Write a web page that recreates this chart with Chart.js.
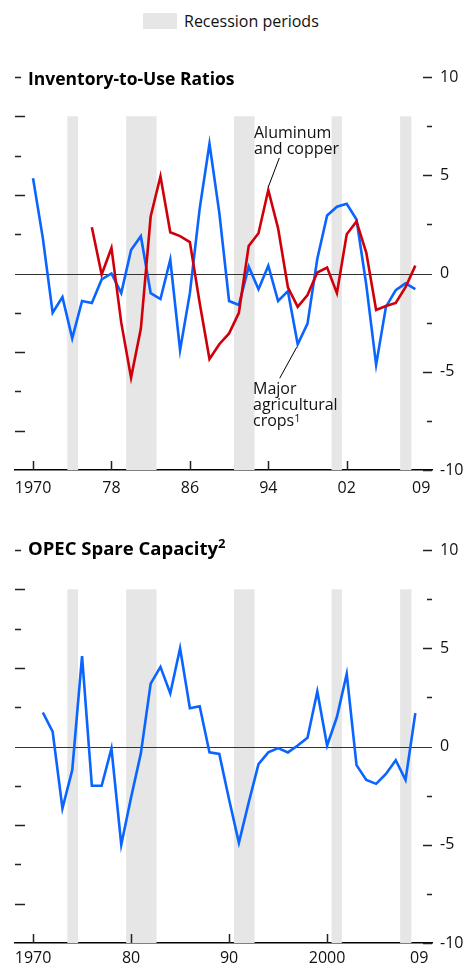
<!DOCTYPE html>
<html>
<head>
<meta charset="utf-8">
<script src="https://cdn.jsdelivr.net/npm/chart.js@4/dist/chart.umd.min.js"></script>
<style>
  body { margin: 0; background: #fff; font-family: "Open Sans", sans-serif; color: #111; }
  #wrap { position: relative; width: 470px; height: 969px; overflow: hidden; }
  canvas { position: absolute; left: 0; }
  .txt { position: absolute; white-space: nowrap; }
  .title { font-weight: bold; font-size: 17.5px; line-height: 20px; left: 28px; color: #000; }
  .note { font-size: 16px; line-height: 16px; }
  .swatch { position: absolute; left: 143px; top: 13px; width: 34px; height: 16px; background: #e6e6e6; }
  sup { line-height: 0; }
</style>
</head>
<body>
<div id="wrap">
  <div class="swatch"></div>
  <div class="txt" style="left:184px; top:11px; font-size:16px; line-height:20px;">Recession periods</div>

  <canvas id="invChart" width="470" height="510" style="top:0"></canvas>
  <canvas id="opecChart" width="470" height="459" style="top:510px"></canvas>

  <div class="txt title" style="top:68px;">Inventory-to-Use Ratios</div>
  <div class="txt title" style="top:538px; font-size:18.5px;">OPEC Spare Capacity<sup style="font-size:13px; vertical-align:7px;">2</sup></div>

  <div class="txt note" style="left:254px; top:124px;">Aluminum<br>and copper</div>
  <div class="txt note" style="left:253px; top:380px;">Major<br>agricultural<br>crops<sup style="font-size:11px; vertical-align:4px;">1</sup></div>
</div>

<script>
// --- data ---
const cropYears = [1970, 1971, 1972, 1973, 1974, 1975, 1976, 1977, 1978, 1979,
                   1980, 1981, 1982, 1983, 1984, 1985, 1986, 1987, 1988, 1989,
                   1990, 1991, 1992, 1993, 1994, 1995, 1996, 1997, 1998, 1999,
                   2000, 2001, 2002, 2003, 2004, 2005, 2006, 2007, 2008, 2009];
const cropsRatio = [4.85, 1.8, -2.0, -1.2, -3.3, -1.4, -1.5, -0.3, 0.0, -1.0,
                    1.2, 1.9, -1.0, -1.3, 0.7, -3.9, -1.0, 3.3, 6.6, 3.1,
                    -1.4, -1.6, 0.35, -0.8, 0.4, -1.4, -0.9, -3.6, -2.55, 0.75,
                    2.95, 3.4, 3.55, 2.75, -0.6, -4.65, -1.7, -0.85, -0.5, -0.8];

const metalYears = [1976, 1977, 1978, 1979,
                    1980, 1981, 1982, 1983, 1984, 1985, 1986, 1987, 1988, 1989,
                    1990, 1991, 1992, 1993, 1994, 1995, 1996, 1997, 1998, 1999,
                    2000, 2001, 2002, 2003, 2004, 2005, 2006, 2007, 2008, 2009];
const metalsRatio = [2.35, -0.05, 1.3, -2.5,
                     -5.3, -2.8, 2.9, 4.95, 2.1, 1.9, 1.6, -1.5, -4.35, -3.6,
                     -3.05, -2.0, 1.4, 2.05, 4.25, 2.3, -0.7, -1.7, -1.1, 0.05,
                     0.3, -1.0, 2.0, 2.65, 1.05, -1.85, -1.65, -1.5, -0.7, 0.4];

const opecYears = [1971, 1972, 1973, 1974, 1975, 1976, 1977, 1978, 1979,
                   1980, 1981, 1982, 1983, 1984, 1985, 1986, 1987, 1988, 1989,
                   1990, 1991, 1992, 1993, 1994, 1995, 1996, 1997, 1998, 1999,
                   2000, 2001, 2002, 2003, 2004, 2005, 2006, 2007, 2008, 2009];
const opecSpare = [1.73, 0.76, -3.15, -1.2, 4.6, -2.0, -2.0, -0.1, -5.0,
                   -2.6, -0.35, 3.2, 4.05, 2.7, 5.0, 1.95, 2.05, -0.3, -0.38,
                   -2.7, -4.9, -2.85, -0.9, -0.3, -0.08, -0.3, 0.05, 0.45, 2.8,
                   0.05, 1.5, 3.7, -0.95, -1.7, -1.9, -1.4, -0.7, -1.7, 1.7];

const recessionStart = [1973.5, 1979.5, 1990.5, 2000.45, 2007.45];
const recessionEnd   = [1974.6, 1982.6, 1992.6, 2001.5, 2008.6];

const invTickYears  = [1970, 1978, 1986, 1994, 2002];
const invLabelYears = [1970, 1978, 1986, 1994, 2002, 2009.6];
const invLabels     = ['1970', '78', '86', '94', '02', '09'];

const opecTickYears  = [1970, 1980, 1990, 2000];
const opecLabelYears = [1970, 1980, 1990, 2000, 2009.4];
const opecLabels     = ['1970', '80', '90', '2000', '09'];

const leftTicks  = [10, 8, 6, 4, 2, -2, -4, -6, -8];
const rightTicks = [10, 7.5, 5, 2.5, -2.5, -5, -7.5, -10];

const BLUE = '#0a64ff';
const RED = '#d0000b';

const pts = (xs, ys) => xs.map((x, i) => ({ x: x, y: ys[i] }));

// bands, zero line, tick marks and leader lines
const decorPlugin = {
    id: 'decor',
    beforeDatasetsDraw(chart, args, opts) {
        const { ctx, chartArea, scales: { x, y } } = chart;
        ctx.save();
        ctx.fillStyle = '#e6e6e6';
        const yTop = y.getPixelForValue(8), yBot = y.getPixelForValue(-10);
        recessionStart.forEach((s, i) => {
            const x0 = x.getPixelForValue(s);
            const x1 = x.getPixelForValue(recessionEnd[i]);
            ctx.fillRect(x0, yTop, x1 - x0, yBot - yTop);
        });
        // zero line
        ctx.strokeStyle = '#333';
        ctx.lineWidth = 1;
        const y0 = Math.round(y.getPixelForValue(0)) + 0.5;
        ctx.beginPath();
        ctx.moveTo(chartArea.left, y0);
        ctx.lineTo(chartArea.right, y0);
        ctx.stroke();
        ctx.restore();
    },
    afterDraw(chart, args, opts) {
        const { ctx, chartArea, scales: { x, y } } = chart;
        ctx.save();
        ctx.strokeStyle = '#222';
        ctx.lineWidth = 1.5;
        ctx.beginPath();
        leftTicks.forEach(v => {
            const py = Math.round(y.getPixelForValue(v)) + 0.5;
            const len = (v % 4 === 0) ? 10 : 6;
            ctx.moveTo(chartArea.left, py);
            ctx.lineTo(chartArea.left + len, py);
        });
        rightTicks.forEach(v => {
            const py = Math.round(y.getPixelForValue(v)) + 0.5;
            const len = (v % 5 === 0) ? 9 : 5;
            ctx.moveTo(chartArea.right - len, py);
            ctx.lineTo(chartArea.right, py);
        });
        (opts.marks || []).forEach(yr => {
            const px = Math.round(x.getPixelForValue(yr)) + 0.5;
            ctx.moveTo(px, chartArea.bottom);
            ctx.lineTo(px, chartArea.bottom - 9);
        });
        ctx.stroke();

        // leader lines for the annotations
        ctx.strokeStyle = '#000';
        ctx.lineWidth = 1;
        (opts.leaders || []).forEach(l => {
            const px = x.getPixelForValue(l.x), py = y.getPixelForValue(l.y);
            ctx.beginPath();
            ctx.moveTo(px + l.from[0], py + l.from[1]);
            ctx.lineTo(px + l.to[0], py + l.to[1]);
            ctx.stroke();
        });
        ctx.restore();
    }
};

function makeChart(id, datasets, tickYears, labelYears, labelText, padTop, axisHeight, labelPad, leaders) {
    return new Chart(document.getElementById(id), {
        type: 'line',
        data: { datasets: datasets },
        options: {
            responsive: false,
            animation: false,
            layout: { padding: { top: padTop, left: 15, right: 0, bottom: 0 } },
            plugins: {
                legend: { display: false },
                tooltip: { enabled: false },
                decor: { marks: tickYears, leaders: leaders }
            },
            elements: {
                point: { radius: 0 },
                line: { borderWidth: 2.6, tension: 0, borderJoinStyle: 'miter', borderCapStyle: 'butt' }
            },
            scales: {
                x: {
                    type: 'linear',
                    min: 1968.16,
                    max: 2010.7,
                    grid: { display: false, drawTicks: false },
                    border: { display: true, color: '#000', width: 1.6 },
                    afterBuildTicks: scale => { scale.ticks = labelYears.map(v => ({ value: v })); },
                    afterFit: scale => { scale.height = axisHeight; },
                    ticks: {
                        autoSkip: false,
                        maxRotation: 0,
                        padding: labelPad,
                        color: '#111',
                        font: { family: 'Open Sans', size: 16 },
                        callback: (v, i) => labelText[i]
                    }
                },
                y: {
                    position: 'right',
                    min: -10,
                    max: 10,
                    grid: { display: false, drawTicks: false },
                    border: { display: false },
                    afterFit: scale => { scale.width = 38; },
                    ticks: {
                        stepSize: 5,
                        padding: 8,
                        color: '#111',
                        font: { family: 'Open Sans', size: 16 },
                        callback: v => String(v)
                    }
                }
            }
        },
        plugins: [decorPlugin]
    });
}

document.addEventListener('DOMContentLoaded', () => {
    makeChart('invChart', [
        { label: 'Aluminum and copper', data: pts(metalYears, metalsRatio), borderColor: RED },
        { label: 'Major agricultural crops', data: pts(cropYears, cropsRatio), borderColor: BLUE }
    ], invTickYears, invLabelYears, invLabels, 77, 40, 9, [
        { x: 1994, y: metalsRatio[metalYears.indexOf(1994)], from: [0, -3], to: [11, -32] },
        { x: 1997, y: cropsRatio[cropYears.indexOf(1997)], from: [-1, 3], to: [-18, 34] }
    ]);

    makeChart('opecChart', [
        { label: 'OPEC spare capacity', data: pts(opecYears, opecSpare), borderColor: BLUE }
    ], opecTickYears, opecLabelYears, opecLabels, 40, 26, 6, []);
});
</script>
</body>
</html>
